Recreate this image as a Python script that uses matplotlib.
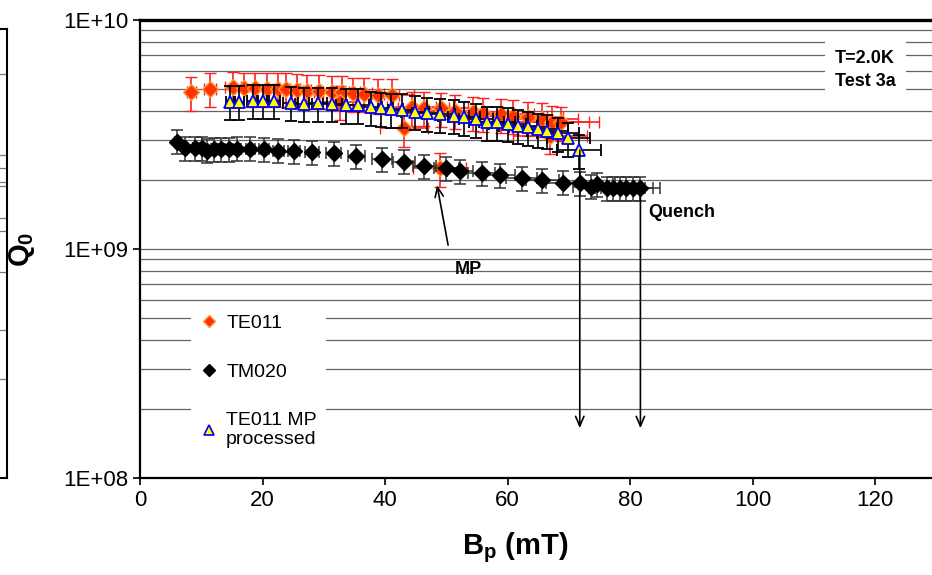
import matplotlib
matplotlib.use("Agg")
import matplotlib.pyplot as plt
from matplotlib.lines import Line2D
from matplotlib.ticker import LogLocator, FixedLocator, FuncFormatter
import numpy as np

plt.rcParams['font.family'] = ['Liberation Sans', 'DejaVu Sans']
plt.rcParams['mathtext.fontset'] = 'custom'
plt.rcParams['mathtext.rm'] = 'Liberation Sans'
plt.rcParams['mathtext.bf'] = 'Liberation Sans:bold'

# TE011 (merah)
te011_bp = [8.4, 11.4, 15.2, 17.0, 18.8, 20.7, 22.5, 23.9, 25.6, 27.3, 29.3, 31.3,
            32.9, 34.7, 36.6, 38.8, 41.1, 32.7, 43.1, 44.4, 46.3, 48.9, 49.2, 51.5,
            54.4, 56.0, 59.0, 60.9, 63.4, 65.6, 67.2, 68.7, 66.9]
te011_q0 = [4.83e9, 5.00e9, 5.08e9, 5.03e9, 5.03e9, 5.00e9, 5.00e9, 5.00e9, 4.96e9, 4.91e9,
            4.91e9, 4.86e9, 4.86e9, 4.79e9, 4.76e9, 4.70e9, 4.70e9, 4.40e9, 3.37e9, 4.15e9,
            4.13e9, 2.25e9, 4.11e9, 4.02e9, 3.95e9, 3.92e9, 3.88e9, 3.82e9, 3.76e9, 3.70e9,
            3.60e9, 3.57e9, 3.12e9]

# TM020 (hitam)
tm020_bp = [6.0, 7.35, 9.0, 10.1, 11.0, 12.0, 13.2, 14.5, 15.9, 18.0, 20.3, 22.6, 25.1,
            28.1, 31.6, 35.3, 39.5, 43.1, 46.4, 50.0, 52.2, 55.8, 58.8, 62.3, 65.7, 69.0,
            71.8, 73.6, 74.6, 76.3, 77.3, 78.4, 79.3, 80.5, 81.7]
tm020_q0 = [2.94e9, 2.75e9, 2.75e9, 2.76e9, 2.69e9, 2.72e9, 2.72e9, 2.72e9, 2.74e9, 2.74e9,
            2.72e9, 2.69e9, 2.68e9, 2.64e9, 2.62e9, 2.55e9, 2.46e9, 2.41e9, 2.30e9, 2.25e9,
            2.19e9, 2.14e9, 2.10e9, 2.04e9, 2.00e9, 1.95e9, 1.94e9, 1.87e9, 1.92e9, 1.84e9,
            1.85e9, 1.85e9, 1.85e9, 1.84e9, 1.84e9]

# TE011 setelah MP processing (segitiga)
mp_bp = [14.7, 16.2, 18.4, 20.1, 21.8, 24.6, 26.7, 29.1, 31.4, 33.7, 35.6, 37.7, 39.3,
         40.9, 42.7, 44.9, 46.8, 49.0, 51.2, 52.9, 54.9, 56.6, 58.3, 60.0, 61.7, 63.4,
         64.9, 66.5, 68.3, 69.9, 71.7]
mp_q0 = [4.40e9, 4.40e9, 4.44e9, 4.44e9, 4.44e9, 4.35e9, 4.30e9, 4.33e9, 4.30e9, 4.25e9,
         4.25e9, 4.16e9, 4.11e9, 4.07e9, 4.05e9, 3.98e9, 3.91e9, 3.88e9, 3.81e9, 3.76e9,
         3.69e9, 3.58e9, 3.58e9, 3.52e9, 3.45e9, 3.40e9, 3.33e9, 3.28e9, 3.20e9, 3.04e9,
         2.70e9]

# error bar dalam persen (gaya Excel)
te011_yerr_pct, te011_xerr_pct = 0.17, 0.09
tm020_yerr_pct, tm020_xerr_pct = 0.12, 0.04
mp_yerr_pct, mp_xerr_pct = 0.17, 0.05

x_ticks = [0, 20, 40, 60, 80, 100, 120]
y_ticks = [1e8, 1e9, 1e10]
y_tick_labels = ['1E+08', '1E+09', '1E+10']
left_frame_grid = [0.22, 0.33, 0.46, 0.55, 0.58, 0.65, 0.66, 0.69, 0.72, 0.90]

fig = plt.figure(figsize=(9.32, 5.75), dpi=100)

# potongan grafik tetangga di tepi kiri
ax0 = fig.add_axes([-0.1, 0.168, 0.1075, 0.782])
ax0.set_xlim(0, 1)
ax0.set_ylim(0, 1)
for y in left_frame_grid:
    ax0.axhline(y, color='#777777', lw=0.9)
ax0.set_xticks([])
ax0.set_yticks([])
ax0.spines['left'].set_visible(False)
for s in ['right', 'top', 'bottom']:
    ax0.spines[s].set_linewidth(1.5)

ax = fig.add_axes([140 / 932, 1 - 478 / 575, (936.25 - 140) / 932, 458 / 575])
ax.set_yscale('log')
ax.set_xlim(0, 130)
ax.set_ylim(1e8, 1e10)

# grid horizontal di setiap minor tick
ax.yaxis.set_major_locator(FixedLocator(y_ticks))
ax.yaxis.set_major_formatter(FuncFormatter(lambda v, p: y_tick_labels[y_ticks.index(v)] if v in y_ticks else ''))
ax.yaxis.set_minor_locator(LogLocator(base=10, subs=np.arange(2, 10)))
ax.yaxis.set_minor_formatter(FuncFormatter(lambda v, p: ''))
ax.grid(True, axis='y', which='both', color='#666666', lw=0.9)
ax.set_axisbelow(True)
ax.tick_params(axis='y', which='minor', length=0)
ax.tick_params(axis='both', which='major', direction='out', length=5, width=1.2, labelsize=16)
ax.set_xticks(x_ticks)

for s in ['left', 'bottom']:
    ax.spines[s].set_linewidth(1.6)
ax.spines['top'].set_linewidth(2.4)
ax.spines['right'].set_visible(False)

te = np.array(te011_q0)
tb = np.array(te011_bp)
ax.errorbar(tb, te, yerr=te * te011_yerr_pct, xerr=tb * te011_xerr_pct, fmt='D', ms=8,
            mfc='#ff3300', mec='#ff9933', mew=1.0, ecolor='#ff2020', elinewidth=1.2,
            capsize=4, capthick=1.2, zorder=3)

tm = np.array(tm020_q0)
tmb = np.array(tm020_bp)
ax.errorbar(tmb, tm, yerr=tm * tm020_yerr_pct, xerr=tmb * tm020_xerr_pct, fmt='D', ms=8.5,
            mfc='black', mec='black', ecolor='#333333', elinewidth=1.1,
            capsize=4, capthick=1.1, zorder=4)

mq = np.array(mp_q0)
mb = np.array(mp_bp)
ax.errorbar(mb, mq, yerr=mq * mp_yerr_pct, xerr=mb * mp_xerr_pct, fmt='^', ms=9,
            mfc='#ffff00', mec='#0000ff', mew=1.3, ecolor='black', elinewidth=1.2,
            capsize=4, capthick=1.2, zorder=5)

# panah quench dan MP
arrow = dict(arrowstyle='->,head_length=0.7,head_width=0.3', color='black', lw=1.2,
             shrinkA=0, shrinkB=0)
ax.annotate('', xy=(71.8, 1.65e8), xytext=(71.8, 2.7e9), arrowprops=arrow, zorder=6)
ax.annotate('', xy=(81.7, 1.65e8), xytext=(81.7, 1.8e9), arrowprops=arrow, zorder=6)
ax.annotate('', xy=(48.5, 1.9e9), xytext=(50.3, 1.04e9), arrowprops=arrow, zorder=6)
ax.text(82.9, 1.44e9, 'Quench', fontsize=13, fontweight='bold', ha='left', va='center')
ax.text(53.6, 8.1e8, 'MP', fontsize=13, fontweight='bold', ha='center', va='center')
ax.text(113.5, 6.05e9, 'T=2.0K\nTest 3a', fontsize=13, fontweight='bold', ha='left',
        va='center', linespacing=1.45,
        bbox=dict(boxstyle='square,pad=0.55', fc='white', ec='none'), zorder=7)

ax.set_xlabel(r'$\mathbf{B_p}$ (mT)', fontsize=21, fontweight='bold', va='center')
ax.xaxis.set_label_coords(0.471, -0.153)
ax.set_ylabel(r'$\mathbf{Q_0}$', fontsize=21, fontweight='bold', va='center')
ax.yaxis.set_label_coords(-0.148, 0.5)

handles = [
    Line2D([], [], ls='none', marker='D', ms=6.5, mfc='#ff3300', mec='#ff9933', mew=1.0),
    Line2D([], [], ls='none', marker='D', ms=6.5, mfc='black', mec='black'),
    Line2D([], [], ls='none', marker='^', ms=7.5, mfc='#ffff00', mec='#0000ff', mew=1.2),
]
leg = ax.legend(handles, ['TE011', 'TM020', 'TE011 MP\nprocessed'], loc='upper left',
                bbox_to_anchor=(0.052, 0.40), fontsize=14, frameon=True, fancybox=False,
                framealpha=1, edgecolor='none', facecolor='white', labelspacing=1.6,
                handlelength=0.8, handletextpad=0.5, borderpad=0.5)
leg.set_zorder(8)

fig.savefig('out.png', dpi=100)
